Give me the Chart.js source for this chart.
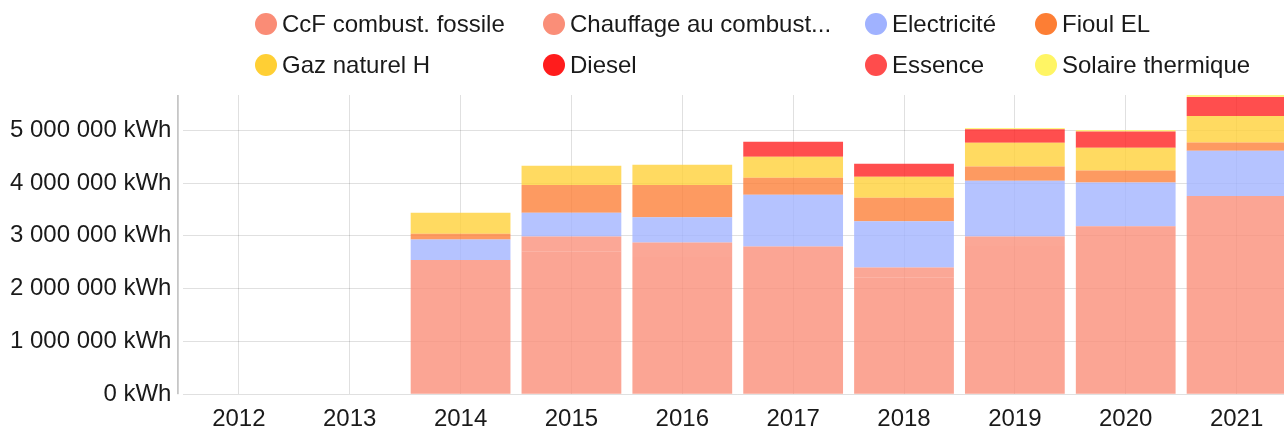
<!DOCTYPE html>
<html>
<head>
<meta charset="utf-8">
<script src="https://cdn.jsdelivr.net/npm/chart.js@4"></script>
<style>
  body { margin: 0; background: #fff; font-family: "Liberation Sans", Arial, sans-serif; }
  #wrap { position: relative; width: 1284px; height: 430px; overflow: hidden; }
  #chart { position: absolute; left: 0; top: 0; }
  #legend {
    position: absolute; left: 255px; top: 3px; z-index: 2;
    display: grid; grid-template-columns: 288px 322px 170px auto; grid-auto-rows: 41px;
    font-size: 24px; color: #1a1a1a;
  }
  .item { display: flex; align-items: center; white-space: nowrap; }
  .dot { width: 22px; height: 22px; border-radius: 50%; margin-right: 5px; flex: none; }
</style>
</head>
<body>
<div id="wrap">
  <div id="legend"></div>
  <canvas id="chart" width="1292" height="445"></canvas>
</div>
<script>
// années
const years = ['2012', '2013', '2014', '2015', '2016', '2017', '2018', '2019', '2020', '2021'];

// consommation par agent énergétique (kWh)
const ccfFossile   = [0, 0, 2544000, 2700000, 2600000, 2796000, 2204000, 2809000, 3180000, 3753000];
const chauffage    = [0, 0, 0, 285000, 272000, 0, 195000, 176000, 0, 0];
const electricite  = [0, 0, 384000, 453000, 478000, 982000, 876000, 1058000, 831000, 856000];
const fioulEL      = [0, 0, 112000, 523000, 611000, 321000, 447000, 271000, 227000, 157000];
const gazNaturel   = [0, 0, 398000, 365000, 384000, 397000, 396000, 447000, 428000, 504000];
const diesel       = [0, 0, 0, 0, 0, 284000, 246000, 258000, 309000, 360000];
const essence      = [0, 0, 0, 0, 0, 0, 0, 0, 0, 0];
const solaire      = [0, 0, 0, 0, 0, 0, 0, 25000, 31000, 37000];

const tickStep = 1000000;

const series = [
  { label: 'CcF combust. fossile', data: ccfFossile, color: [250, 140, 118] },
  { label: 'Chauffage au combust...', data: chauffage, color: [250, 142, 120] },
  { label: 'Electricité', data: electricite, color: [160, 178, 255] },
  { label: 'Fioul EL', data: fioulEL, color: [253, 126, 52] },
  { label: 'Gaz naturel H', data: gazNaturel, color: [255, 207, 52] },
  { label: 'Diesel', data: diesel, color: [255, 28, 28] },
  { label: 'Essence', data: essence, color: [255, 76, 76] },
  { label: 'Solaire thermique', data: solaire, color: [255, 245, 100] }
];

const rgba = (c, a) => 'rgba(' + c[0] + ',' + c[1] + ',' + c[2] + ',' + a + ')';

// legende html en colonnes
const legend = document.getElementById('legend');
series.forEach(s => {
  const item = document.createElement('div');
  item.className = 'item';
  const dot = document.createElement('span');
  dot.className = 'dot';
  dot.style.background = rgba(s.color, 1);
  item.appendChild(dot);
  item.appendChild(document.createTextNode(s.label));
  legend.appendChild(item);
});

const totals = years.map((_, i) => series.reduce((sum, s) => sum + s.data[i], 0));

// ligne d'axe y, un peu a gauche de la zone du graphique
const axisLine = {
  id: 'axisLine',
  afterDraw(chart) {
    const a = chart.chartArea;
    const c = chart.ctx;
    c.save();
    c.strokeStyle = 'rgba(0,0,0,0.4)';
    c.lineWidth = 1;
    c.beginPath();
    c.moveTo(a.left - 5.5, a.top);
    c.lineTo(a.left - 5.5, a.bottom);
    c.stroke();
    c.restore();
  }
};

Chart.defaults.font.family = '"Liberation Sans", Arial, sans-serif';
Chart.defaults.font.size = 24;
Chart.defaults.color = '#1a1a1a';

const ctx = document.getElementById('chart').getContext('2d');
new Chart(ctx, {
  type: 'bar',
  data: {
    labels: years,
    datasets: series.map(s => ({
      label: s.label,
      data: s.data,
      backgroundColor: rgba(s.color, 0.78),
      borderWidth: 0,
      categoryPercentage: 0.9,
      barPercentage: 1
    }))
  },
  options: {
    responsive: false,
    animation: false,
    layout: { padding: { top: 95, left: -2, right: 0, bottom: 0 } },
    plugins: {
      legend: { display: false },
      tooltip: { enabled: false }
    },
    scales: {
      x: {
        stacked: true,
        grid: { offset: false, drawTicks: false, color: 'rgba(0,0,0,0.12)' },
        border: { display: false },
        ticks: { padding: 11 }
      },
      y: {
        stacked: true,
        beginAtZero: true,
        max: Math.max(...totals),
        grid: { drawTicks: false, color: 'rgba(0,0,0,0.12)' },
        border: { display: false },
        ticks: {
          stepSize: tickStep,
          includeBounds: false,
          padding: 12,
          callback: v => String(v).replace(/\B(?=(\d{3})+(?!\d))/g, ' ') + ' kWh'
        }
      }
    }
  },
  plugins: [axisLine]
});
</script>
</body>
</html>
